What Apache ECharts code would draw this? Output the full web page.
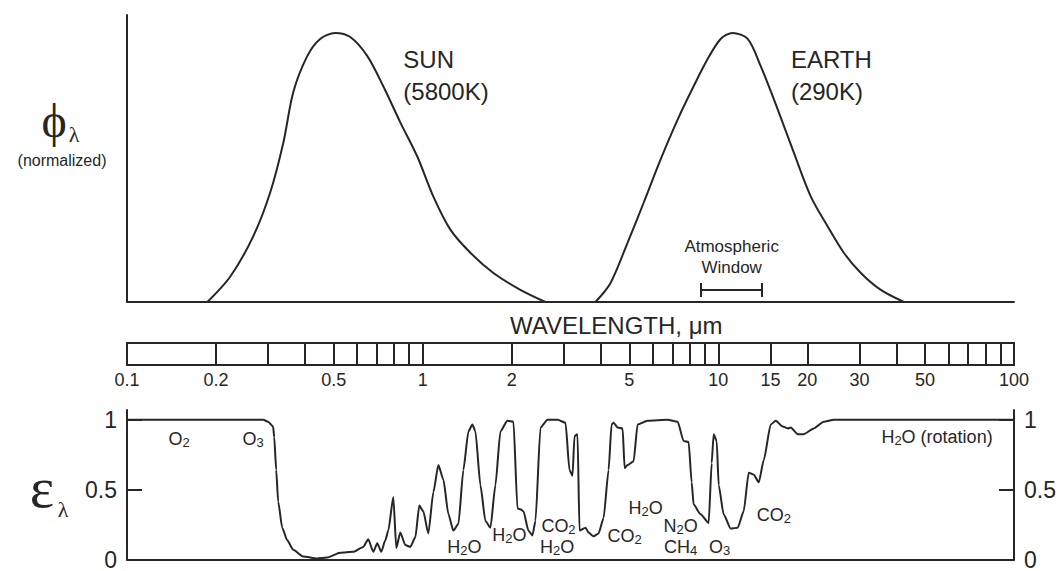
<!DOCTYPE html>
<html><head><meta charset="utf-8">
<script src="https://cdn.jsdelivr.net/npm/echarts@6/dist/echarts.min.js"></script>
<style>html,body{margin:0;padding:0;background:#fff}#c{width:1062px;height:571px}</style>
</head><body><div id="c"></div>
<script>
// ---- data (wavelength in micrometres) ----
const sunWavelength = [0.187,0.223,0.267,0.305,0.338,0.365,0.407,0.450,0.506,0.569,0.650,0.736,0.840,0.959,1.087,1.241,1.450,1.735,2.14,2.60];
const sunPhi        = [0,0.093,0.243,0.407,0.593,0.780,0.914,0.978,1.0,0.985,0.914,0.802,0.668,0.541,0.392,0.269,0.183,0.108,0.045,0];
const earthWavelength = [3.84,4.32,4.93,5.59,6.38,7.29,8.25,9.20,10.18,11.18,12.57,13.91,15.88,17.99,20.55,23.46,26.57,30.34,35.45,42.42];
const earthPhi        = [0,0.071,0.220,0.369,0.530,0.679,0.802,0.903,0.978,1.0,0.978,0.877,0.716,0.556,0.392,0.280,0.183,0.108,0.045,0];
const windowRange = [8.7, 14];

const emisWavelength = [0.1,0.289,0.300,0.312,0.3147,0.3196,0.3246,0.3349,0.3483,0.3649,0.3944,0.4398,0.4755,0.5262,0.5824,0.6297,0.6546,0.6808,0.7022,0.7244,0.7475,0.7653,0.7956,0.8143,0.8402,0.8735,0.9082,0.9445,0.974,1.005,1.045,1.087,1.130,1.175,1.222,1.270,1.321,1.373,1.428,1.473,1.508,1.568,1.630,1.695,1.762,1.832,1.935,2.028,2.092,2.141,2.192,2.279,2.351,2.407,2.503,2.644,2.858,3.042,3.137,3.212,3.262,3.340,3.392,3.554,3.639,3.784,3.934,4.091,4.254,4.354,4.423,4.563,4.745,4.820,4.932,5.168,5.333,5.764,6.737,7.285,7.632,7.935,8.124,8.25,8.714,9.275,9.495,9.643,9.872,10.03,10.42,11.01,11.63,12.18,12.67,13.18,13.70,14.24,15.04,15.64,16.51,17.17,17.58,18.56,19.45,21.03,22.73,24.58,100];
const emisValue = [1.0,1.0,0.986,0.952,0.876,0.641,0.414,0.228,0.138,0.069,0.021,0.007,0.014,0.048,0.055,0.090,0.145,0.055,0.117,0.055,0.138,0.207,0.448,0.083,0.193,0.103,0.090,0.159,0.386,0.345,0.186,0.483,0.676,0.572,0.324,0.207,0.255,0.641,0.917,0.966,0.917,0.531,0.276,0.228,0.531,0.917,0.993,0.986,0.366,0.359,0.345,0.207,0.172,0.276,0.945,1.0,1.0,0.979,0.641,0.600,0.883,0.897,0.207,0.228,0.193,0.166,0.186,0.297,0.641,0.966,0.979,0.945,0.938,0.655,0.676,0.703,0.966,0.993,1.0,0.986,0.848,0.841,0.552,0.393,0.324,0.262,0.690,0.897,0.848,0.531,0.324,0.221,0.228,0.345,0.621,0.607,0.552,0.710,0.966,0.993,0.952,0.938,0.945,0.897,0.897,0.938,0.986,1.0,1.0];

const scaleTickValues  = [0.2,0.3,0.4,0.5,0.6,0.7,0.8,0.9,1,2,3,4,5,6,7,8,9,10,15,20,30,40,50,60,70,80,90];
const scaleLabelValues = [0.1,0.2,0.5,1,2,5,10,15,20,30,50,100];
const epsTicks = [0, 0.5, 1];

const gasNames      = ['O₂','O₃','H₂O','H₂O','CO₂','H₂O','CO₂','H₂O','N₂O','CH₄','O₃','CO₂','H₂O (rotation)'];
const gasWavelength = [0.150,0.267,1.384,1.966,2.88,2.85,4.82,5.68,7.46,7.46,10.1,15.4,54.9];
const gasEmis       = [0.862,0.862,0.090,0.172,0.241,0.090,0.166,0.372,0.241,0.090,0.090,0.317,0.876];

const bodyNames = ['SUN\n(5800K)','EARTH\n(290K)'];
const bodyWavelength = [0.86, 17.6];
const bodyPhi = [0.843, 0.843];

// ---- chart ----
const INK = '#262626';
const SANS = '"Liberation Sans", Arial, Helvetica, sans-serif';
const SERIF = '"Liberation Serif", "DejaVu Serif", serif';
const zip = (a, b) => a.map((v, i) => [v, b[i]]);
const noAxis = {axisLine:{show:false}, axisTick:{show:false}, axisLabel:{show:false}, splitLine:{show:false}};
const line = {color: INK, width: 2, opacity: 1};
// Unicode subscript digits -> rich-text subscript tokens
const subFmt = p => p.name.replace(/[₀-₉]/g, c => '{s|' + (c.charCodeAt(0) - 0x2080) + '}');

const logX = (grid, extra) => Object.assign({gridIndex: grid, type: 'log', logBase: 10, min: 0.1, max: 100}, noAxis, extra || {});

const chart = echarts.init(document.getElementById('c'), null, {renderer: 'svg'});
chart.setOption({
  animation: false,
  backgroundColor: '#fff',
  textStyle: {fontFamily: SANS, color: INK},
  grid: [
    {left: 127, right: 48, top: 15, bottom: 269},
    {left: 127, right: 48, top: 343, height: 22, show: true, borderColor: INK, borderWidth: 2, backgroundColor: 'transparent'},
    {left: 127, right: 48, top: 410, bottom: 6}
  ],
  xAxis: [
    logX(0, {axisLine: {show: true, onZero: false, lineStyle: line}}),
    logX(1, {
      axisTick: {show: true, inside: true, length: 22, customValues: scaleTickValues, lineStyle: line},
      axisLabel: {show: true, customValues: scaleLabelValues, fontSize: 18, color: INK, margin: 6, fontFamily: SANS,
                  formatter: v => String(+v.toPrecision(3))}
    }),
    logX(2, {axisLine: {show: true, onZero: false, lineStyle: line}})
  ],
  yAxis: [
    Object.assign({gridIndex: 0, type: 'value', min: 0, max: 1.067}, noAxis, {axisLine: {show: true, lineStyle: line}}),
    Object.assign({gridIndex: 1, type: 'value', min: 0, max: 1}, noAxis),
    Object.assign({gridIndex: 2, type: 'value', min: 0, max: 1.07, position: 'left'}, noAxis, {
      axisLine: {show: true, lineStyle: line},
      axisTick: {show: true, inside: true, length: 15, customValues: epsTicks, lineStyle: line},
      axisLabel: {show: true, customValues: epsTicks, fontSize: 23, color: INK, margin: 10, fontFamily: SANS}
    }),
    Object.assign({gridIndex: 2, type: 'value', min: 0, max: 1.07, position: 'right'}, noAxis, {
      axisLine: {show: true, lineStyle: line},
      axisTick: {show: true, inside: true, length: 15, customValues: epsTicks, lineStyle: line},
      axisLabel: {show: true, customValues: epsTicks, fontSize: 23, color: INK, margin: 10, fontFamily: SANS}
    })
  ],
  series: [
    {type: 'line', xAxisIndex: 0, yAxisIndex: 0, data: zip(sunWavelength, sunPhi), smooth: 0.3, showSymbol: false, lineStyle: line, silent: true},
    {type: 'line', xAxisIndex: 0, yAxisIndex: 0, data: zip(earthWavelength, earthPhi), smooth: 0.3, showSymbol: false, lineStyle: line, silent: true},
    {type: 'lines', coordinateSystem: 'cartesian2d', xAxisIndex: 0, yAxisIndex: 0, silent: true, lineStyle: line,
     data: [
       {coords: [[windowRange[0], 0.045], [windowRange[1], 0.045]]},
       {coords: [[windowRange[0], 0.019], [windowRange[0], 0.071]]},
       {coords: [[windowRange[1], 0.019], [windowRange[1], 0.071]]}
     ]},
    {type: 'scatter', xAxisIndex: 0, yAxisIndex: 0, symbolSize: 0, silent: true, itemStyle: {opacity: 1},
     data: bodyNames.map((n, i) => ({name: n, value: [bodyWavelength[i], bodyPhi[i]]})),
     label: {show: true, position: 'inside', formatter: '{b}', align: 'left', verticalAlign: 'middle', opacity: 1,
             fontSize: 24, lineHeight: 32, color: INK, fontFamily: SANS}},
    {type: 'scatter', xAxisIndex: 0, yAxisIndex: 0, symbolSize: 0, silent: true, itemStyle: {opacity: 1},
     data: [{name: 'Atmospheric\nWindow', value: [Math.sqrt(windowRange[0] * windowRange[1]) * 1.005, 0.168]}],
     label: {show: true, position: 'inside', formatter: '{b}', align: 'center', verticalAlign: 'middle', opacity: 1,
             fontSize: 17, lineHeight: 21, color: INK, fontFamily: SANS}},
    {type: 'line', xAxisIndex: 2, yAxisIndex: 2, data: zip(emisWavelength, emisValue), smooth: 0.2, smoothMonotone: 'x',
     showSymbol: false, lineStyle: line, silent: true},
    {type: 'scatter', xAxisIndex: 2, yAxisIndex: 2, symbolSize: 0, silent: true, itemStyle: {opacity: 1},
     data: gasNames.map((n, i) => ({name: n, value: [gasWavelength[i], gasEmis[i]]})),
     label: {show: true, position: 'inside', formatter: subFmt, align: 'center', verticalAlign: 'middle', opacity: 1,
             fontSize: 18, lineHeight: 24, color: INK, fontFamily: SANS,
             rich: {s: {fontSize: 13, lineHeight: 13, verticalAlign: 'bottom', color: INK, fontFamily: SANS, padding: [0, 0, 2, 0]}}}}
  ],
  graphic: [
    {type: 'text', x: 54, y: 120, silent: true, style: {text: 'ϕ', fontSize: 48, fontFamily: SERIF, fill: INK, align: 'center', verticalAlign: 'middle'}},
    {type: 'text', x: 74, y: 134, silent: true, style: {text: 'λ', fontSize: 22, fontFamily: SERIF, fill: INK, align: 'center', verticalAlign: 'middle'}},
    {type: 'text', x: 62, y: 160, silent: true, style: {text: '(normalized)', fontSize: 16, fontFamily: SANS, fill: INK, align: 'center', verticalAlign: 'middle'}},
    {type: 'text', x: 42, y: 487, silent: true, style: {text: 'ε', fontSize: 58, fontFamily: SERIF, fill: INK, align: 'center', verticalAlign: 'middle'}},
    {type: 'text', x: 63, y: 509, silent: true, style: {text: 'λ', fontSize: 22, fontFamily: SERIF, fill: INK, align: 'center', verticalAlign: 'middle'}},
    {type: 'text', x: 510, y: 325, silent: true, style: {text: 'WAVELENGTH, μm', fontSize: 24, fontFamily: SANS, fill: INK, align: 'left', verticalAlign: 'middle'}}
  ]
});
</script>
</body></html>
